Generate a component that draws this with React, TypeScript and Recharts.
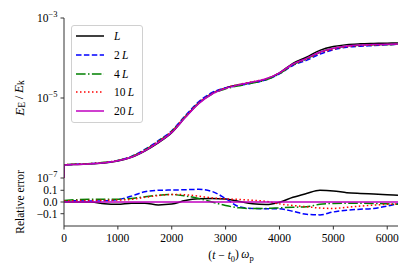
import React from 'react';
import { LineChart, Line, XAxis, YAxis, Legend } from 'recharts';

// ---------- data ----------
const topTime = [0, 5, 250, 500, 750, 1000, 1250, 1500, 1750, 2000, 2250, 2500, 2750, 3000, 3250, 3500, 3750, 4000, 4250, 4500, 4750, 5000, 5250, 5500, 5750, 6000, 6200];
const topL = [1e-7, 2.11e-7, 2.19e-7, 2.26e-7, 2.36e-7, 2.64e-7, 3.28e-7, 4.74e-7, 7.57e-7, 1.355e-6, 3.28e-6, 7.44e-6, 1.3e-5, 1.78e-5, 2.15e-5, 2.47e-5, 2.95e-5, 4.26e-5, 7.36e-5, 1.047e-4, 1.55e-4, 1.93e-4, 2.16e-4, 2.26e-4, 2.31e-4, 2.35e-4, 2.37e-4];
const top2L = [1e-7, 2.13e-7, 2.21e-7, 2.28e-7, 2.42e-7, 2.74e-7, 3.48e-7, 5.21e-7, 8.54e-7, 1.52e-6, 3.58e-6, 8.02e-6, 1.37e-5, 1.79e-5, 2.05e-5, 2.37e-5, 2.84e-5, 4.02e-5, 6.51e-5, 8.74e-5, 1.255e-4, 1.61e-4, 1.86e-4, 1.98e-4, 2.04e-4, 2.13e-4, 2.21e-4];
const top4L = [1e-7, 2.14e-7, 2.23e-7, 2.31e-7, 2.46e-7, 2.75e-7, 3.41e-7, 5.01e-7, 8.21e-7, 1.47e-6, 3.41e-6, 7.46e-6, 1.26e-5, 1.69e-5, 2.03e-5, 2.37e-5, 2.85e-5, 4.06e-5, 6.76e-5, 9.38e-5, 1.38e-4, 1.74e-4, 1.98e-4, 2.09e-4, 2.13e-4, 2.17e-4, 2.2e-4];
const top10L = [1e-7, 2.13e-7, 2.22e-7, 2.29e-7, 2.44e-7, 2.74e-7, 3.38e-7, 4.98e-7, 8.19e-7, 1.47e-6, 3.44e-6, 7.6e-6, 1.3e-5, 1.79e-5, 2.19e-5, 2.55e-5, 3.04e-5, 4.2e-5, 6.87e-5, 9.38e-5, 1.34e-4, 1.66e-4, 1.91e-4, 2.04e-4, 2.1e-4, 2.17e-4, 2.2e-4];
const top20L = [1e-7, 2.11e-7, 2.19e-7, 2.26e-7, 2.4e-7, 2.69e-7, 3.31e-7, 4.79e-7, 7.76e-7, 1.38e-6, 3.24e-6, 7.24e-6, 1.26e-5, 1.74e-5, 2.14e-5, 2.51e-5, 3.02e-5, 4.27e-5, 7.08e-5, 9.77e-5, 1.41e-4, 1.76e-4, 2.0e-4, 2.11e-4, 2.16e-4, 2.21e-4, 2.24e-4];

const errTime = [0, 250, 500, 750, 1000, 1250, 1500, 1750, 2000, 2250, 2500, 2750, 3000, 3250, 3500, 3750, 4000, 4250, 4500, 4750, 5000, 5250, 5500, 5750, 6000, 6200];
const errL = [0, 0, 0, -0.015, -0.02, -0.01, -0.01, -0.025, -0.018, 0.012, 0.027, 0.03, 0.025, 0.005, -0.015, -0.022, -0.002, 0.04, 0.072, 0.1, 0.095, 0.08, 0.073, 0.068, 0.062, 0.057];
const err2L = [0.01, 0.01, 0.008, 0.01, 0.02, 0.05, 0.088, 0.1, 0.102, 0.105, 0.108, 0.09, 0.03, -0.04, -0.055, -0.058, -0.058, -0.08, -0.105, -0.11, -0.085, -0.07, -0.062, -0.055, -0.035, -0.014];
const err4L = [0.013, 0.02, 0.023, 0.024, 0.024, 0.03, 0.045, 0.058, 0.064, 0.052, 0.03, 0.0, -0.03, -0.05, -0.056, -0.055, -0.05, -0.045, -0.04, -0.02, -0.012, -0.01, -0.01, -0.012, -0.016, -0.02];
const err10L = [0.01, 0.012, 0.013, 0.015, 0.017, 0.022, 0.04, 0.055, 0.064, 0.062, 0.05, 0.035, 0.027, 0.022, 0.015, 0.005, -0.016, -0.03, -0.04, -0.052, -0.055, -0.045, -0.035, -0.027, -0.02, -0.017];
const err20L = [0, 0, 0, 0, 0, 0, 0, 0, 0, 0, 0, 0, 0, 0, 0, 0, 0, 0, 0, 0, 0, 0, 0, 0, 0, 0];

const seriesKeys = ['L1', 'L2', 'L4', 'L10', 'L20'];
const seriesPrefix = ['', '2', '4', '10', '20'];
const seriesColors = ['#000000', '#0000ff', '#008000', '#ff0000', '#bf00bf'];
const seriesDash = [undefined, '5.5 2.4', '9.6 2.4 1.5 2.4', '1.5 2.5', undefined];

const xTicks = [0, 1000, 2000, 3000, 4000, 5000, 6000];
const logTicks = [1e-7, 1e-5, 1e-3];
const errTicks = [-0.1, 0, 0.1];

const topSeries = [topL, top2L, top4L, top10L, top20L];
const errSeries = [errL, err2L, err4L, err10L, err20L];

const topData = topTime.map((t, i) => {
  const row: any = { t };
  seriesKeys.forEach((k, j) => (row[k] = topSeries[j][i]));
  return row;
});
const errData = errTime.map((t, i) => {
  const row: any = { t };
  seriesKeys.forEach((k, j) => (row[k] = errSeries[j][i]));
  return row;
});

// ---------- styles ----------
const FONT = '"Liberation Serif", "DejaVu Serif", serif';
const FS = 11.5;
const AX = '#333';

const LogTick = (props: any) => {
  const { x, y, payload } = props;
  const exp = Math.round(Math.log10(payload.value));
  return (
    <text x={x} y={y} textAnchor="end" fill="#000" fontFamily={FONT} fontSize={FS}>
      <tspan dy="0.38em">10</tspan>
      <tspan dy="-0.6em" fontSize={8.5}>{(exp < 0 ? '\u2212' : '') + Math.abs(exp)}</tspan>
    </text>
  );
};

const TopYLabel = (props: any) => {
  const vb = props.viewBox || {};
  const cx = vb.x + 19;
  const cy = vb.y + vb.height / 2;
  return (
    <text x={cx} y={cy} transform={`rotate(-90 ${cx} ${cy})`} textAnchor="middle" dominantBaseline="central" fill="#000" fontFamily={FONT} fontSize={13}>
      <tspan fontStyle="italic">E</tspan>
      <tspan fontSize={9.5} dy="0.3em">E</tspan>
      <tspan dy="-0.3em">{'\u2009/\u2009'}</tspan>
      <tspan fontStyle="italic">E</tspan>
      <tspan fontSize={9.5} dy="0.3em">k</tspan>
    </text>
  );
};

const BotYLabel = (props: any) => {
  const vb = props.viewBox || {};
  const cx = vb.x + 20;
  const cy = vb.y + vb.height / 2;
  return (
    <text x={cx} y={cy} transform={`rotate(-90 ${cx} ${cy})`} textAnchor="middle" dominantBaseline="central" fill="#000" fontFamily={FONT} fontSize={FS}>
      Relative error
    </text>
  );
};

const XLabel = (props: any) => {
  const vb = props.viewBox || {};
  const cx = vb.x + vb.width / 2;
  const cy = vb.y + 33;
  return (
    <text x={cx} y={cy} textAnchor="middle" fill="#000" fontFamily={FONT} fontSize={FS}>
      <tspan>(</tspan>
      <tspan fontStyle="italic">t</tspan>
      <tspan>{' \u2212 '}</tspan>
      <tspan fontStyle="italic">t</tspan>
      <tspan fontSize={8.5} dy="0.3em">0</tspan>
      <tspan dy="-0.3em">{')\u2009'}</tspan>
      <tspan fontStyle="italic">ω</tspan>
      <tspan fontSize={8.5} dy="0.3em">p</tspan>
    </text>
  );
};

const LegendBox = () => (
  <div
    style={{
      width: 72,
      height: 98,
      boxSizing: 'border-box',
      border: '1px solid #d0d0d0',
      borderRadius: 3,
      background: 'rgba(255,255,255,0.85)',
      position: 'relative',
      fontFamily: FONT,
      fontSize: FS,
      color: '#000',
    }}
  >
    {seriesKeys.map((k, i) => (
      <div key={k} style={{ position: 'absolute', left: 3, top: 2 + i * 18.75, height: 16, display: 'flex', alignItems: 'center' }}>
        <svg width={30} height={16}>
          <line x1={1} y1={8} x2={29} y2={8} stroke={seriesColors[i]} strokeWidth={1.5} strokeDasharray={seriesDash[i]} />
        </svg>
        <span style={{ marginLeft: 9, whiteSpace: 'nowrap', lineHeight: '16px' }}>
          {seriesPrefix[i] ? seriesPrefix[i] + '\u2009' : ''}
          <i>L</i>
        </span>
      </div>
    ))}
  </div>
);

const errFmt = (v: number) => (v === 0 ? '0.0' : (v < 0 ? '\u2212' : '') + Math.abs(v).toFixed(1));

export default function App() {
  return (
    <div style={{ position: 'absolute', left: 0, top: 0, width: 415, height: 277, background: '#fff', fontFamily: FONT }}>
      <div style={{ position: 'absolute', left: 0, top: 140 }}>
        <LineChart width={415} height={137} data={errData} margin={{ top: 38, right: 17, bottom: 0, left: 0 }}>
          <XAxis
            dataKey="t"
            type="number"
            domain={[0, 6200]}
            ticks={xTicks}
            interval={0}
            allowDataOverflow
            height={51}
            tickSize={3.5}
            tickMargin={4}
            tick={{ fill: '#000', fontSize: FS, fontFamily: FONT }}
            axisLine={{ stroke: AX }}
            tickLine={{ stroke: AX }}
            label={{ content: XLabel }}
          />
          <XAxis xAxisId="top" orientation="top" dataKey="t" type="number" domain={[0, 6200]} tick={false} tickLine={false} height={0} axisLine={{ stroke: AX }} allowDataOverflow />
          <YAxis
            domain={[-0.205, 0.205]}
            ticks={errTicks}
            interval={0}
            allowDataOverflow
            width={64}
            tickSize={3.5}
            tickMargin={3}
            tickFormatter={errFmt}
            tick={{ fill: '#000', fontSize: FS, fontFamily: FONT }}
            axisLine={{ stroke: AX }}
            tickLine={{ stroke: AX }}
            label={{ content: BotYLabel }}
          />
          <YAxis yAxisId="right" orientation="right" width={0} domain={[0, 1]} tick={false} tickLine={false} axisLine={{ stroke: AX }} />
          {seriesKeys.map((k, i) => (
            <Line
              key={k}
              dataKey={k}
              type="monotone"
              stroke={seriesColors[i]}
              strokeWidth={1.5}
              strokeDasharray={seriesDash[i]}
              dot={false}
              isAnimationActive={false}
            />
          ))}
        </LineChart>
      </div>
      <div style={{ position: 'absolute', left: 0, top: 0 }}>
        <LineChart width={415} height={190} data={topData} margin={{ top: 18, right: 17, bottom: 12, left: 0 }}>
          <XAxis dataKey="t" type="number" domain={[0, 6200]} ticks={xTicks} tick={false} tickLine={false} height={0} axisLine={{ stroke: AX }} allowDataOverflow />
          <XAxis xAxisId="top" orientation="top" dataKey="t" type="number" domain={[0, 6200]} tick={false} tickLine={false} height={0} axisLine={{ stroke: AX }} allowDataOverflow />
          <YAxis
            scale="log"
            domain={[1e-7, 1e-3]}
            ticks={logTicks}
            interval={0}
            allowDataOverflow
            width={64}
            tickSize={3.5}
            tickMargin={3}
            tick={LogTick}
            axisLine={{ stroke: AX }}
            tickLine={{ stroke: AX }}
            label={{ content: TopYLabel }}
          />
          <YAxis yAxisId="right" orientation="right" width={0} domain={[0, 1]} tick={false} tickLine={false} axisLine={{ stroke: AX }} />
          {seriesKeys.map((k, i) => (
            <Line
              key={k}
              dataKey={k}
              type="monotone"
              stroke={seriesColors[i]}
              strokeWidth={1.5}
              strokeDasharray={seriesDash[i]}
              dot={false}
              isAnimationActive={false}
            />
          ))}
          <Legend layout="horizontal" verticalAlign="middle" align="center" content={LegendBox} wrapperStyle={{ left: 71, top: 25, width: 72, height: 98 }} />
        </LineChart>
      </div>
    </div>
  );
}
